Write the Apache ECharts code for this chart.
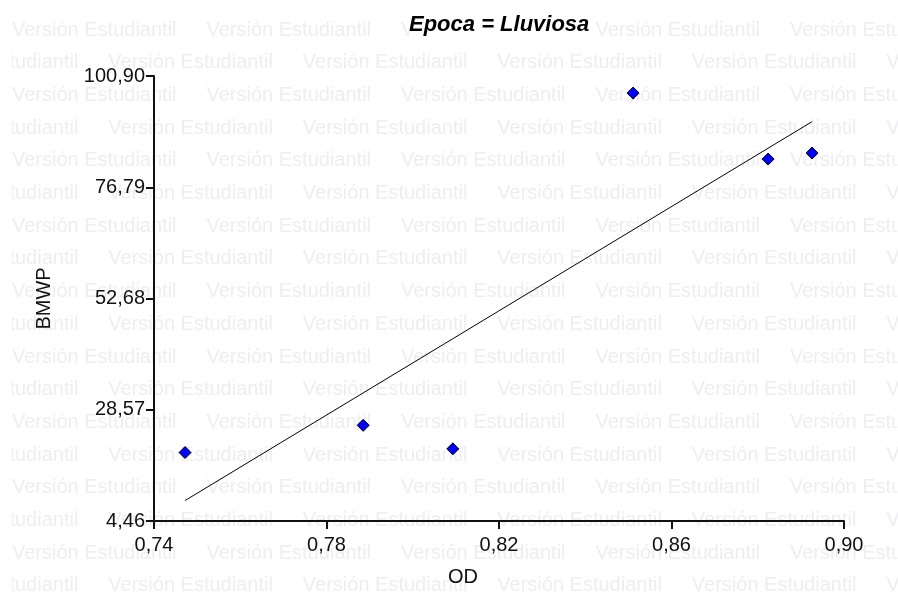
<!DOCTYPE html>
<html>
<head>
<meta charset="utf-8">
<script src="https://cdn.jsdelivr.net/npm/echarts@6/dist/echarts.min.js"></script>
<style>html,body{margin:0;padding:0;background:#fff}#c{width:898px;height:592px}</style>
</head>
<body>
<div id="c"></div>
<script>
// Data
const titleText = 'Epoca = Lluviosa';
const xName = 'OD';
const yName = 'BMWP';
const od   = [0.7472, 0.7885, 0.8093, 0.8511, 0.8824, 0.8926];
const bmwp = [19.3, 25.2, 20.1, 97.2, 82.9, 84.2];
const xMin = 0.74, xMax = 0.90, xStep = 0.04;
const yMin = 4.46, yMax = 100.90, yStep = 24.11;
const watermarkText = 'Versión Estudiantil';

// least-squares regression line computed from the data
const n = od.length;
const mx = od.reduce((a, b) => a + b, 0) / n;
const my = bmwp.reduce((a, b) => a + b, 0) / n;
let sxy = 0, sxx = 0;
for (let i = 0; i < n; i++) { sxy += (od[i] - mx) * (bmwp[i] - my); sxx += (od[i] - mx) ** 2; }
const slope = sxy / sxx, icpt = my - slope * mx;
const x0 = Math.min(...od), x1 = Math.max(...od);
const fitLine = [[x0, icpt + slope * x0], [x1, icpt + slope * x1]];

// watermark background (decoration)
const FONT = '"Liberation Sans", Arial, sans-serif';
const wm = [];
for (let r = 0; r < 18; r++) {
  const y = 30 + r * 32.7;
  const start = (r % 2 === 0) ? 12 : 108.3 - 194.5;
  for (let k = 0; k < 6; k++) {
    const x = start + k * 194.5;
    if (x > 898) break;
    wm.push({ type: 'text', x: x, y: y, z: -10, silent: true,
      style: { text: watermarkText, fill: '#eeeef1', fontSize: 20, fontFamily: FONT, align: 'left', verticalAlign: 'middle' } });
  }
}
wm.push({ type: 'rect', shape: { x: 0, y: 0, width: 12, height: 592 }, z: -9, silent: true, style: { fill: '#fff' } });

const fmt = v => v.toFixed(2).replace('.', ',');
const axisCommon = {
  axisLine: { show: true, lineStyle: { color: '#111', width: 2 } },
  axisTick: { show: true, inside: false, length: 8, lineStyle: { color: '#111', width: 2 } },
  splitLine: { show: false },
  axisLabel: { color: '#111', fontSize: 20, fontFamily: FONT, formatter: fmt },
  nameTextStyle: { color: '#111', fontSize: 20, fontFamily: FONT }
};

const chart = echarts.init(document.getElementById('c'), null, { renderer: 'canvas' });
chart.setOption({
  backgroundColor: '#fff',
  animation: false,
  title: {
    text: titleText, left: 409, top: 14, padding: 0, backgroundColor: '#fff',
    textStyle: { fontSize: 22, fontWeight: 'bold', fontStyle: 'italic', fontFamily: FONT, color: '#000' }
  },
  graphic: wm,
  grid: { left: 154, right: 54, top: 76, bottom: 70, containLabel: false },
  xAxis: Object.assign({}, axisCommon, {
    type: 'value', min: xMin, max: xMax, interval: xStep,
    name: xName, nameLocation: 'middle', nameGap: 46,
    nameTextStyle: Object.assign({}, axisCommon.nameTextStyle, { padding: [0, 72, 0, 0] }),
    axisLabel: Object.assign({}, axisCommon.axisLabel, { margin: 14 })
  }),
  yAxis: Object.assign({}, axisCommon, {
    type: 'value', min: yMin, max: yMax, interval: yStep,
    name: yName, nameLocation: 'middle', nameGap: 100, nameRotate: 90,
    axisLabel: Object.assign({}, axisCommon.axisLabel, { margin: 9 })
  }),
  series: [
    { type: 'line', data: fitLine, symbol: 'none', silent: true, z: 3,
      lineStyle: { color: '#000', width: 1 } },
    { type: 'scatter', data: od.map((x, i) => [x, bmwp[i]]), symbol: 'diamond', symbolSize: 12, z: 4,
      itemStyle: { color: '#0000ff', borderColor: '#000', borderWidth: 1, opacity: 1 } }
  ]
});
</script>
</body>
</html>
